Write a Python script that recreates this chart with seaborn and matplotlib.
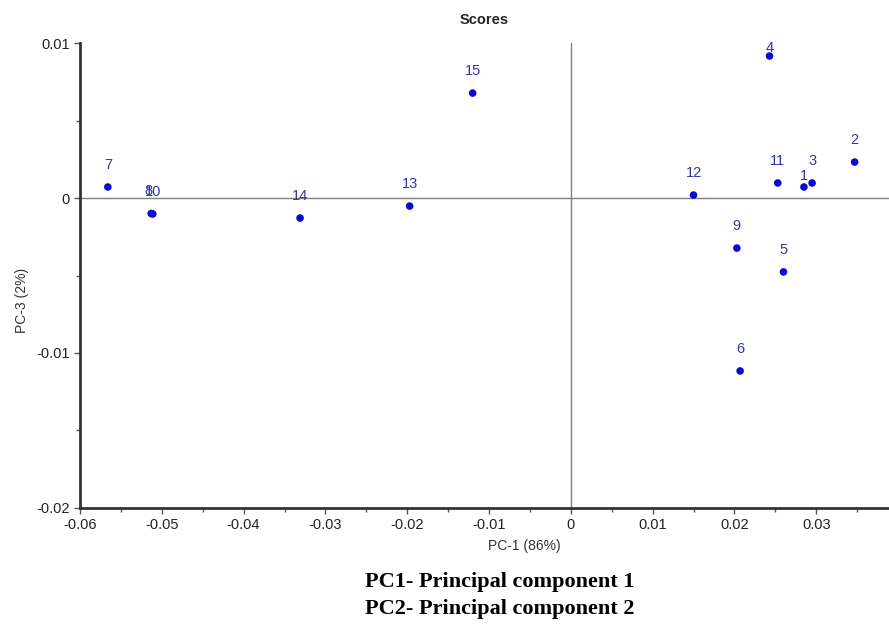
import numpy as np
import pandas as pd
import matplotlib.pyplot as plt
import seaborn as sns
from matplotlib.ticker import MultipleLocator

# scores
labels = ['1', '2', '3', '4', '5', '6', '7', '8', '9', '10',
          '11', '12', '13', '14', '15']
pc1 = [0.0285, 0.0347, 0.0295, 0.0243, 0.0260, 0.0207, -0.0566, -0.0513,
       0.0203, -0.0511, 0.0253, 0.0150, -0.0197, -0.0331, -0.0120]
pc3 = [0.00071, 0.00232, 0.00097, 0.00916, -0.00477, -0.01116, 0.00071,
       -0.00100, -0.00323, -0.00103, 0.00097, 0.00019, -0.00052, -0.00129,
       0.00677]

df = pd.DataFrame({'label': labels, 'PC1': pc1, 'PC3': pc3})

sns.set_style('ticks')
plt.rcParams['font.family'] = ['Liberation Sans', 'DejaVu Sans']

fig = plt.figure(figsize=(8.89, 6.29), dpi=100)
ax = fig.add_axes([0.09, 0.1924, 0.91, 0.7392])

ax.axhline(0, color='#808080', lw=1, zorder=1)
ax.axvline(0, color='#808080', lw=1, zorder=1)

sns.scatterplot(data=df, x='PC1', y='PC3', ax=ax, color='#0a0ad0', s=30,
                edgecolor='none', zorder=3)

# label offsets in points (some labels sit on the dot in the original)
offsets = {'1': 3, '4': 1, '8': 11, '10': 11}
for _, r in df.iterrows():
    dy = offsets.get(r.label, 11)
    dx = -2 if r.label == '8' else 0
    ax.annotate(r.label, (r.PC1, r.PC3), xytext=(dx, dy),
                textcoords='offset points', ha='center', va='bottom',
                color='#3535a5', fontsize=10.5)

ax.set_xlim(-0.06, 0.0389)
ax.set_ylim(-0.02, 0.01)
ax.xaxis.set_major_locator(MultipleLocator(0.01))
ax.xaxis.set_minor_locator(MultipleLocator(0.005))
ax.yaxis.set_major_locator(MultipleLocator(0.01))
ax.yaxis.set_minor_locator(MultipleLocator(0.005))
ax.xaxis.set_major_formatter(plt.FuncFormatter(lambda v, p: '%g' % round(v, 3)))
ax.yaxis.set_major_formatter(plt.FuncFormatter(lambda v, p: '%g' % round(v, 3)))
ax.tick_params(which='both', direction='out', color='#555555',
               labelsize=10.5, labelcolor='#222222')
ax.tick_params(which='major', length=4, width=1)
ax.tick_params(which='minor', length=3, width=1)

for s in ['top', 'right']:
    ax.spines[s].set_visible(False)
for s in ['left', 'bottom']:
    ax.spines[s].set_linewidth(2)
    ax.spines[s].set_color('#333333')

ax.set_xlabel('PC-1 (86%)', fontsize=10, color='#333333')
ax.set_ylabel('PC-3 (2%)', fontsize=10, color='#333333')
ax.xaxis.set_label_coords(0.549, -0.082)
ax.yaxis.set_label_coords(-0.072, 0.447)
ax.xaxis.label.set_va('center')
ax.yaxis.label.set_va('center')
ax.set_title('Scores', fontsize=10.5, fontweight='bold', pad=14)

fig.text(0.5625, 1 - 582 / 629, 'PC1- Principal component 1', ha='center',
         va='center', fontsize=16, fontweight='bold', color='black',
         family=['Liberation Serif'])
fig.text(0.5625, 1 - 609 / 629, 'PC2- Principal component 2', ha='center',
         va='center', fontsize=16, fontweight='bold', color='black',
         family=['Liberation Serif'])

plt.savefig('out.png', dpi=100)
plt.close()
